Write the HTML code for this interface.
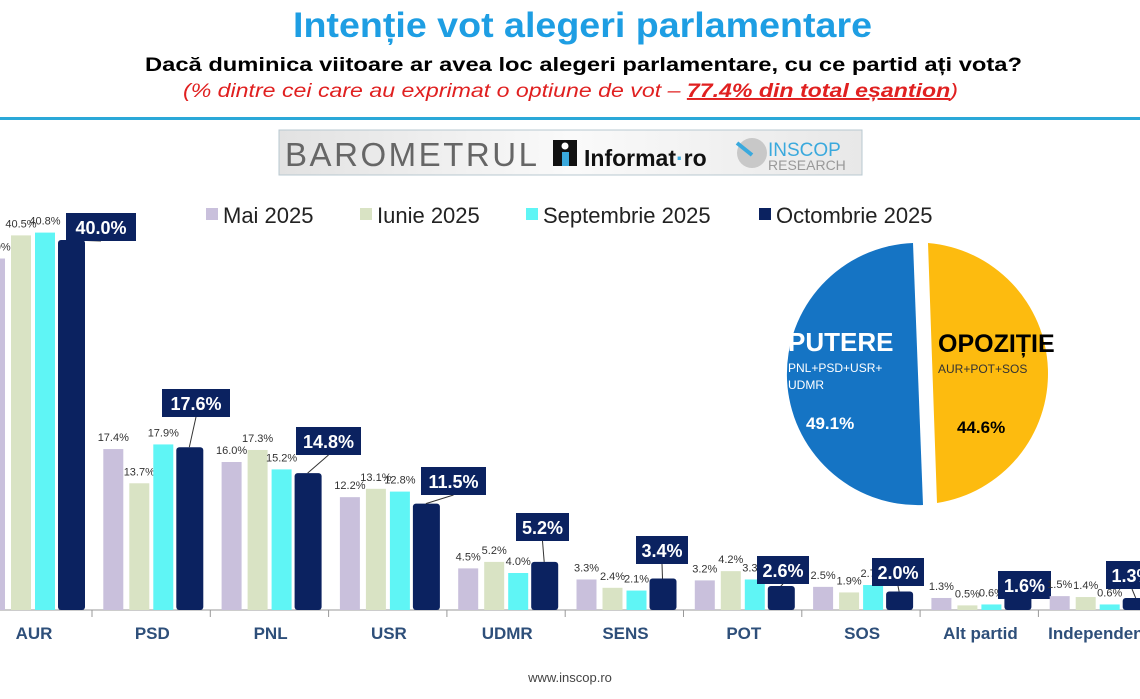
<!DOCTYPE html>
<html><head><meta charset="utf-8"><style>
body{margin:0;background:#fff;width:1140px;height:694px;overflow:hidden;font-family:"Liberation Sans",sans-serif}
</style></head><body>
<svg id="s" width="1140" height="694" xmlns="http://www.w3.org/2000/svg" font-family="Liberation Sans, sans-serif">
<text x="293" y="37" font-size="35" font-weight="bold" fill="#1e9ee3" textLength="579" lengthAdjust="spacingAndGlyphs">Intenție vot alegeri parlamentare</text>
<text x="145" y="71" font-size="19.5" font-weight="bold" fill="#000" textLength="877" lengthAdjust="spacingAndGlyphs">Dacă duminica viitoare ar avea loc alegeri parlamentare, cu ce partid ați vota?</text>
<text x="183" y="97" font-size="19.5" font-style="italic" fill="#e02020" textLength="775" lengthAdjust="spacingAndGlyphs">(% dintre cei care au exprimat o optiune de vot – <tspan font-weight="bold" text-decoration="underline">77.4% din total eșantion</tspan>)</text>
<rect x="0" y="117" width="1140" height="3" fill="#2aa8d8"/>
<defs><linearGradient id="g" x1="0" x2="1"><stop offset="0" stop-color="#e2e2e2"/><stop offset="0.5" stop-color="#fafafa"/><stop offset="1" stop-color="#e8e8e8"/></linearGradient></defs>
<rect x="279" y="130" width="583" height="45" fill="url(#g)" stroke="#b8c8d0"/>
<text x="285" y="166" font-size="33" fill="#666" textLength="252">BAROMETRUL</text>
<rect x="553" y="140" width="24" height="26" fill="#111"/><rect x="562" y="152" width="7" height="14" fill="#3aa9dd"/><circle cx="565" cy="146" r="3.5" fill="#fff"/>
<text x="584" y="166" font-size="23" font-weight="bold" fill="#111">Informat<tspan fill="#3aa9dd">·</tspan>ro</text>
<circle cx="752" cy="153" r="15" fill="#c8c8c8"/><line x1="737" y1="143" x2="752" y2="155" stroke="#3aa9dd" stroke-width="4"/>
<text x="768" y="156" font-size="19" fill="#3aa9dd">INSCOP</text>
<text x="768" y="170" font-size="14" fill="#999">RESEARCH</text>
<g id="bars"></g>
<path d="M913,243 A131,131 0 1 0 923,505 Z" fill="#1574c4"/>
<path d="M928,243 A131,131 0 0 1 937,503 Z" fill="#fdbb0f"/>
<text x="788" y="351" font-size="26" font-weight="bold" fill="#fff">PUTERE</text>
<text x="788" y="372" font-size="12" fill="#fff">PNL+PSD+USR+</text>
<text x="788" y="389" font-size="12" fill="#fff">UDMR</text>
<text x="806" y="429" font-size="17" font-weight="bold" fill="#fff">49.1%</text>
<text x="938" y="352" font-size="25" font-weight="bold" fill="#000">OPOZIȚIE</text>
<text x="938" y="373" font-size="12" fill="#333">AUR+POT+SOS</text>
<text x="957" y="433" font-size="17" font-weight="bold" fill="#000">44.6%</text>
<rect x="206" y="208" width="12" height="12" fill="#c9c0dc"/><text x="223" y="223" font-size="22" fill="#222">Mai 2025</text>
<rect x="360" y="208" width="12" height="12" fill="#d9e3c4"/><text x="377" y="223" font-size="22" fill="#222">Iunie 2025</text>
<rect x="526" y="208" width="12" height="12" fill="#5ff5f5"/><text x="543" y="223" font-size="22" fill="#222">Septembrie 2025</text>
<rect x="759" y="208" width="12" height="12" fill="#0b2260"/><text x="776" y="223" font-size="22" fill="#222">Octombrie 2025</text>
<text x="570" y="682" text-anchor="middle" font-size="13" fill="#444">www.inscop.ro</text>
</svg>
<script>
var d=[["AUR",[38.0,40.5,40.8,40.0]],["PSD",[17.4,13.7,17.9,17.6]],["PNL",[16.0,17.3,15.2,14.8]],["USR",[12.2,13.1,12.8,11.5]],["UDMR",[4.5,5.2,4.0,5.2]],["SENS",[3.3,2.4,2.1,3.4]],["POT",[3.2,4.2,3.3,2.6]],["SOS",[2.5,1.9,2.7,2.0]],["Alt partid",[1.3,0.5,0.6,1.6]],["Independent",[1.5,1.4,0.6,1.3]]];
var box=[[66,213,70],[162,389,68],[296,427,65],[421,467,65],[516,513,53],[636,536,52],[757,556,52],[872,558,52],[998,571,53],[1106,561,52]];
var col=["#c9c0dc","#d9e3c4","#5ff5f5","#0b2260"],off=[-48,-22,2,25],w=[20,20,20,27];
var B=610,k=9.25,h='<line x1="0" y1="610" x2="1140" y2="610" stroke="#999"/>';
d.forEach(function(g,i){var c=33+i*118.3;
h+='<line x1="'+(c+59)+'" y1="610" x2="'+(c+59)+'" y2="617" stroke="#999"/>';
h+='<text x="'+(c+1)+'" y="639" text-anchor="middle" font-size="17" font-weight="bold" fill="#2e4f7a">'+g[0]+'</text>';
g[1].forEach(function(v,j){var x=c+off[j],y=B-v*k;
h+='<rect x="'+x+'" y="'+y+'" width="'+w[j]+'" height="'+(v*k)+'" fill="'+col[j]+'" rx="'+(j==3?3:0)+'"/>';
if(j<3)h+='<text x="'+(x+10)+'" y="'+(y-8)+'" text-anchor="middle" font-size="11" fill="#333">'+v.toFixed(1)+'%</text>';});
var b=box[i];h+='<line x1="'+(c+38)+'" y1="'+(B-g[1][3]*k)+'" x2="'+(b[0]+b[2]/2)+'" y2="'+(b[1]+28)+'" stroke="#333"/>';
h+='<rect x="'+b[0]+'" y="'+b[1]+'" width="'+b[2]+'" height="28" fill="#0b2260"/><text x="'+(b[0]+b[2]/2)+'" y="'+(b[1]+21)+'" text-anchor="middle" font-size="18" font-weight="bold" fill="#fff">'+g[1][3].toFixed(1)+'%</text>';});
document.getElementById("bars").innerHTML=h;
</script>
</body></html>
